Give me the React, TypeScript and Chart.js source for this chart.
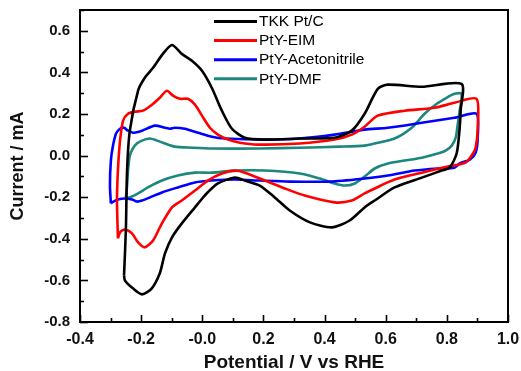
import React, { useEffect, useRef } from "react";
import { Chart, registerables } from "chart.js";

Chart.register(...registerables);

// Cyclic voltammograms: [potential (V vs RHE), current (mA)]
const tkkPtC: [number, number][] = [
  [-0.256, -0.576], [-0.25, -0.36], [-0.246, -0.072], [-0.237, 0.12], [-0.21, 0.312],
  [-0.188, 0.374], [-0.161, 0.422], [-0.129, 0.489], [-0.099, 0.532], [-0.067, 0.489],
  [-0.034, 0.456], [-0.001, 0.408], [0.031, 0.326], [0.064, 0.216], [0.097, 0.129],
  [0.139, 0.086], [0.205, 0.077], [0.319, 0.082], [0.433, 0.086], [0.489, 0.12],
  [0.531, 0.201], [0.574, 0.321], [0.607, 0.341], [0.718, 0.331], [0.848, 0.345],
  [0.845, 0.216], [0.842, 0.134], [0.832, 0.01], [0.809, -0.058], [0.783, -0.072],
  [0.718, -0.106], [0.629, -0.153], [0.564, -0.216], [0.531, -0.249], [0.482, -0.312],
  [0.424, -0.345], [0.352, -0.321], [0.286, -0.264], [0.237, -0.201], [0.188, -0.144],
  [0.139, -0.12], [0.107, -0.106], [0.051, -0.134], [0.008, -0.192], [-0.024, -0.249],
  [-0.067, -0.326], [-0.099, -0.393], [-0.122, -0.47], [-0.139, -0.566], [-0.165, -0.638],
  [-0.197, -0.667], [-0.227, -0.638], [-0.253, -0.6], [-0.256, -0.576],
];

const ptyEim: [number, number][] = [
  [-0.276, -0.398], [-0.279, -0.216], [-0.276, -0.072], [-0.269, 0.072], [-0.259, 0.168],
  [-0.243, 0.201], [-0.22, 0.211], [-0.194, 0.216], [-0.161, 0.249], [-0.139, 0.278],
  [-0.116, 0.312], [-0.096, 0.288], [-0.073, 0.273], [-0.047, 0.273], [-0.024, 0.245],
  [-0.001, 0.192], [0.025, 0.134], [0.051, 0.101], [0.084, 0.077], [0.123, 0.062],
  [0.182, 0.053], [0.319, 0.058], [0.433, 0.077], [0.489, 0.101], [0.531, 0.139],
  [0.574, 0.192], [0.662, 0.216], [0.76, 0.23], [0.825, 0.254], [0.897, 0.273],
  [0.901, 0.134], [0.894, 0.038], [0.881, 0.0], [0.861, -0.034], [0.803, -0.053],
  [0.718, -0.082], [0.629, -0.115], [0.564, -0.158], [0.531, -0.182], [0.489, -0.216],
  [0.433, -0.225], [0.335, -0.192], [0.27, -0.158], [0.205, -0.12], [0.139, -0.082],
  [0.107, -0.072], [0.064, -0.086], [0.018, -0.12], [-0.024, -0.168], [-0.067, -0.216],
  [-0.099, -0.249], [-0.132, -0.326], [-0.161, -0.408], [-0.188, -0.441], [-0.21, -0.417],
  [-0.23, -0.374], [-0.253, -0.355], [-0.269, -0.369], [-0.276, -0.398],
];

const ptyAcetonitrile: [number, number][] = [
  [-0.299, -0.23], [-0.302, -0.144], [-0.299, -0.024], [-0.292, 0.048], [-0.282, 0.106],
  [-0.269, 0.129], [-0.256, 0.134], [-0.243, 0.12], [-0.227, 0.11], [-0.197, 0.12],
  [-0.155, 0.144], [-0.122, 0.134], [-0.106, 0.129], [-0.09, 0.134], [-0.057, 0.129],
  [-0.014, 0.11], [0.031, 0.091], [0.074, 0.082], [0.205, 0.077], [0.319, 0.082],
  [0.433, 0.101], [0.531, 0.125], [0.607, 0.134], [0.718, 0.158], [0.825, 0.182],
  [0.897, 0.201], [0.901, 0.086], [0.894, 0.014], [0.875, -0.019], [0.842, -0.038],
  [0.825, -0.058], [0.77, -0.062], [0.695, -0.072], [0.607, -0.096], [0.531, -0.11],
  [0.417, -0.125], [0.286, -0.125], [0.188, -0.12], [0.107, -0.115], [0.031, -0.12],
  [-0.024, -0.129], [-0.08, -0.153], [-0.132, -0.177], [-0.171, -0.201], [-0.197, -0.216],
  [-0.214, -0.221], [-0.23, -0.211], [-0.253, -0.206], [-0.276, -0.211], [-0.295, -0.225],
  [-0.299, -0.23],
];

const ptyDmf: [number, number][] = [
  [-0.25, -0.201], [-0.246, -0.144], [-0.243, -0.072], [-0.237, 0.0], [-0.227, 0.034],
  [-0.214, 0.058], [-0.197, 0.072], [-0.171, 0.082], [-0.148, 0.072], [-0.122, 0.058],
  [-0.09, 0.043], [-0.034, 0.038], [0.031, 0.034], [0.188, 0.034], [0.319, 0.038],
  [0.45, 0.043], [0.531, 0.048], [0.564, 0.058], [0.629, 0.082], [0.685, 0.134],
  [0.727, 0.201], [0.767, 0.249], [0.799, 0.278], [0.825, 0.297], [0.848, 0.297],
  [0.842, 0.216], [0.835, 0.144], [0.829, 0.086], [0.816, 0.048], [0.796, 0.024],
  [0.77, 0.01], [0.718, -0.01], [0.662, -0.024], [0.607, -0.038], [0.564, -0.062],
  [0.531, -0.101], [0.499, -0.134], [0.466, -0.144], [0.433, -0.134], [0.384, -0.11],
  [0.319, -0.086], [0.205, -0.072], [0.107, -0.072], [0.031, -0.082], [-0.024, -0.082],
  [-0.08, -0.096], [-0.132, -0.12], [-0.178, -0.153], [-0.21, -0.182], [-0.237, -0.201],
  [-0.25, -0.201],
];

const seriesNames = ["TKK Pt/C", "PtY-EIM", "PtY-Acetonitrile", "PtY-DMF"];
const seriesColors = ["#000000", "#ff0000", "#0000ff", "#1b877d"];
const seriesData = [tkkPtC, ptyEim, ptyAcetonitrile, ptyDmf];

const xTitle = "Potential / V vs RHE";
const yTitle = "Current / mA";
const xMin = -0.4, xMax = 1.0;
const yMin = -0.8, yMax = 0.7;

const FONT = "Arial, 'Liberation Sans', Helvetica, sans-serif";

const framePlugin = {
  id: "frameTicksLegend",
  afterDraw(chart: any) {
    const ctx = chart.ctx;
    const xs = chart.scales.x;
    const ys = chart.scales.y;
    const ca = chart.chartArea;
    ctx.save();
    ctx.setLineDash([]);
    ctx.strokeStyle = "#000000";
    ctx.lineWidth = 2;
    ctx.strokeRect(ca.left, ca.top, ca.right - ca.left, ca.bottom - ca.top);

    ctx.lineWidth = 1.6;
    for (let i = Math.round(xMin * 10); i <= Math.round(xMax * 10); i++) {
      const px = Math.round(xs.getPixelForValue(i / 10)) + 0.5;
      const len = i % 2 === 0 ? 7 : 4;
      ctx.beginPath();
      ctx.moveTo(px, ca.bottom);
      ctx.lineTo(px, ca.bottom - len);
      ctx.stroke();
    }
    for (let i = Math.round(yMin * 10); i <= Math.round(yMax * 10); i++) {
      const py = Math.round(ys.getPixelForValue(i / 10)) + 0.5;
      const len = i % 2 === 0 ? 8 : 4;
      ctx.beginPath();
      ctx.moveTo(ca.left, py);
      ctx.lineTo(ca.left + len, py);
      ctx.stroke();
    }

    // legend
    ctx.font = `15.5px ${FONT}`;
    ctx.textBaseline = "middle";
    ctx.textAlign = "left";
    seriesNames.forEach((name, i) => {
      const y = 21.5 + i * 19.1;
      ctx.strokeStyle = seriesColors[i];
      ctx.lineWidth = 3;
      ctx.beginPath();
      ctx.moveTo(214, y);
      ctx.lineTo(257, y);
      ctx.stroke();
      ctx.fillStyle = "#000";
      ctx.fillText(name, 259, y + 0.5);
    });
    ctx.restore();
  },
};

const zeroPad = (s: any) => {
  s.paddingTop = 0;
  s.paddingBottom = 0;
  s.paddingLeft = 0;
  s.paddingRight = 0;
};

export default function App() {
  const canvasRef = useRef<HTMLCanvasElement | null>(null);

  useEffect(() => {
    const canvas = canvasRef.current;
    if (!canvas) return;
    const chart = new Chart(canvas, {
      type: "scatter",
      data: {
        datasets: seriesData.map((d, i) => ({
          label: seriesNames[i],
          data: d.map(([x, y]) => ({ x, y })),
          showLine: true,
          borderColor: seriesColors[i],
          backgroundColor: seriesColors[i],
          borderWidth: 2.6,
          pointRadius: 0,
          tension: 0.25,
          fill: false,
        })),
      },
      options: {
        responsive: false,
        maintainAspectRatio: false,
        animation: false,
        devicePixelRatio: 1,
        layout: { autoPadding: false, padding: { left: 0, top: 10, right: 13, bottom: 0 } },
        plugins: {
          legend: { display: false },
          tooltip: { enabled: false },
        },
        scales: {
          x: {
            type: "linear",
            min: xMin,
            max: xMax,
            grid: { display: false, drawTicks: false },
            border: { display: false },
            ticks: {
              stepSize: 0.2,
              autoSkip: false,
              maxRotation: 0,
              padding: 8,
              color: "#111",
              font: { family: FONT, size: 16, weight: "bold" },
              callback: (v: any) => Number(v).toFixed(1),
            },
            title: {
              display: true,
              text: xTitle,
              color: "#111",
              font: { family: FONT, size: 19, weight: "bold", lineHeight: 1 },
              padding: { top: 0, bottom: -1 },
            },
            afterFit: (s: any) => { s.height = 49; zeroPad(s); },
          },
          y: {
            type: "linear",
            min: yMin,
            max: yMax,
            grid: { display: false, drawTicks: false },
            border: { display: false },
            ticks: {
              stepSize: 0.2,
              includeBounds: false,
              autoSkip: false,
              padding: 10,
              color: "#111",
              font: { family: FONT, size: 15, weight: "bold" },
              callback: (v: any) => {
                const n = Math.round(Number(v) * 10);
                return n % 2 === 0 ? (n / 10).toFixed(1) : "";
              },
            },
            title: {
              display: true,
              text: yTitle,
              color: "#111",
              font: { family: FONT, size: 18, weight: "bold" },
              padding: { top: 7, bottom: 0 },
            },
            afterFit: (s: any) => { s.width = 80; zeroPad(s); },
          },
        },
      },
      plugins: [framePlugin],
    });
    return () => chart.destroy();
  }, []);

  return (
    <div style={{ position: "fixed", left: 0, top: 0, width: 521, height: 371, background: "#fff" }}>
      <canvas ref={canvasRef} width={521} height={371} style={{ display: "block" }} />
    </div>
  );
}
